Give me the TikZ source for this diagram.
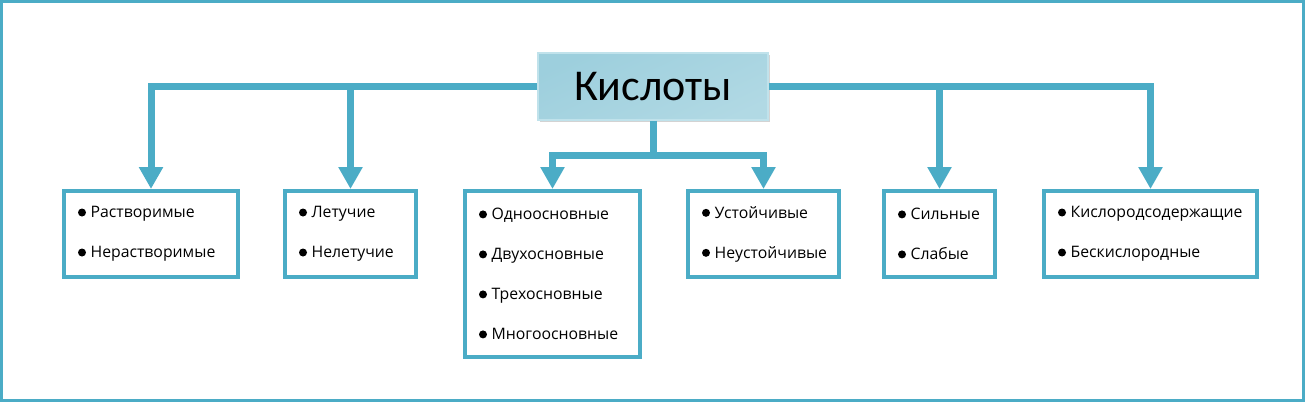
\documentclass[tikz,border=0pt]{standalone}
\usepackage{fontspec}
\setmainfont{Open Sans}
\newfontfamily\titlefont{Carlito}
\usetikzlibrary{arrows.meta,positioning,shadows}
\definecolor{aqua}{HTML}{4BACC6}
\definecolor{aqualight}{HTML}{E6F3F7}
\definecolor{aquamid}{HTML}{9DCFDD}
\newcommand{\dotitem}[1]{\mbox{\tikz[baseline=0pt]\fill (2pt,0.62ex) circle (2pt);\hspace{2.3pt}#1}}

\begin{document}
\begin{tikzpicture}[x=0.5pt,y=-0.5pt,
    box/.style={draw=aqua,line width=2pt,rectangle,inner xsep=7pt,minimum height=43pt,
      align=left,font=\fontsize{7.9}{20}\selectfont},
    title/.style={draw=aqua!35,line width=0.8pt,minimum width=115pt,minimum height=33.5pt,
      left color=aquamid,middle color=aqualight,right color=aquamid!80,shading angle=25,
      drop shadow={shadow xshift=1pt,shadow yshift=-1pt,opacity=.35,fill=gray},
      font=\titlefont\fontsize{22}{26}\selectfont},
    conn/.style={draw=aqua,line width=3.5pt},
    arr/.style={conn,-{Triangle[width=11.5pt,length=11pt]}}]
    \useasboundingbox (0,0) rectangle (1305,402);
    \draw[aqua,line width=1.5pt] (1.5,1.5) rectangle (1303.5,400.5);

    % title
    \node[title] (acids) at (653,86.5) {Кислоты};

    % groups
    \node[box,text width=73pt] (solub) at (151,234)
      {\dotitem{Растворимые}\\ \dotitem{Нерастворимые}};
    \node[box,text width=51.5pt] (volat) at (350.5,234)
      {\dotitem{Летучие}\\ \dotitem{Нелетучие}};
    \node[box,text width=73.5pt,minimum height=83pt] (basic) at (552.5,274)
      {\dotitem{Одноосновные}\\ \dotitem{Двухосновные}\\ \dotitem{Трехосновные}\\ \dotitem{Многоосновные}};
    \node[box,text width=61.5pt] (stab) at (763.5,234)
      {\dotitem{Устойчивые}\\ \dotitem{Неустойчивые}};
    \node[box,text width=41.5pt] (strong) at (939.5,234)
      {\dotitem{Сильные}\\ \dotitem{Слабые}};
    \node[box,text width=92.5pt] (oxy) at (1150.5,234)
      {\dotitem{Кислородсодержащие}\\ \dotitem{Бескислородные}};

    % connectors
    \foreach \b in {solub,volat}{
      \draw[arr] (acids.west) -| (\b.north);
    }
    \foreach \b in {strong,oxy}{
      \draw[arr] (acids.east) -| (\b.north);
    }
    \coordinate (fork) at (653,155.5);
    \draw[conn] (acids.south) -- (fork);
    \foreach \b in {basic,stab}{
      \draw[arr] (fork) -| (\b.north);
    }
\end{tikzpicture}
\end{document}
